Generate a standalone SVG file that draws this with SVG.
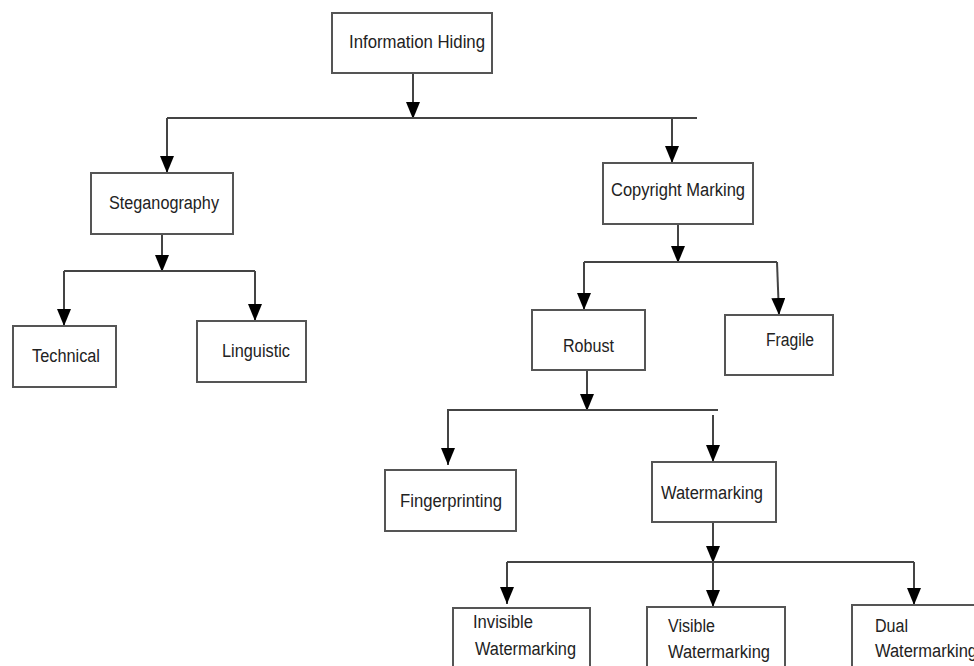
<svg xmlns="http://www.w3.org/2000/svg" width="974" height="666" viewBox="0 0 974 666">
<defs>
<marker id="ah" viewBox="0 0 17 14" refX="17" refY="7" markerWidth="17" markerHeight="14" orient="auto" markerUnits="userSpaceOnUse">
<path d="M0,0 L17,7 L0,14 Z" fill="#000"/>
</marker>
<style>
.box{fill:#fff;stroke:#555;stroke-width:2}
.lbl{font-family:"Liberation Sans","DejaVu Sans",sans-serif;font-size:18px;fill:#222}
.ln{stroke:#444;stroke-width:2;fill:none}
.ar{stroke:#444;stroke-width:2;fill:none;marker-end:url(#ah)}
</style>
</defs>
<rect width="974" height="666" fill="#fff"/>
<g id="connectors">
<line class="ar" x1="413" y1="73" x2="413" y2="119"/>
<line class="ln" x1="167" y1="118" x2="697" y2="118"/>
<line class="ar" x1="167" y1="118" x2="167" y2="173"/>
<line class="ar" x1="672" y1="118" x2="672" y2="163"/>
<line class="ar" x1="162" y1="234" x2="162" y2="272"/>
<line class="ln" x1="64" y1="271" x2="255" y2="271"/>
<line class="ar" x1="64" y1="271" x2="64" y2="326"/>
<line class="ar" x1="255" y1="271" x2="255" y2="321"/>
<line class="ar" x1="678" y1="224" x2="678" y2="263"/>
<line class="ln" x1="584" y1="262" x2="777" y2="262"/>
<line class="ar" x1="584" y1="262" x2="584" y2="310"/>
<line class="ar" x1="777" y1="262" x2="779" y2="315"/>
<line class="ar" x1="587" y1="370" x2="587" y2="411"/>
<line class="ln" x1="447" y1="410" x2="718" y2="410"/>
<line class="ar" x1="448" y1="410" x2="448" y2="465"/>
<line class="ar" x1="713" y1="415" x2="713" y2="462"/>
<line class="ar" x1="713" y1="522" x2="713" y2="563"/>
<line class="ln" x1="507" y1="562" x2="914" y2="562"/>
<line class="ar" x1="507" y1="562" x2="507" y2="604"/>
<line class="ar" x1="713" y1="562" x2="713" y2="607"/>
<line class="ar" x1="914" y1="562" x2="914" y2="605"/>
</g>
<g id="information-hiding">
<rect class="box" x="332" y="13" width="160" height="60"/>
<text class="lbl" x="349" y="48" textLength="136" lengthAdjust="spacingAndGlyphs">Information Hiding</text>
</g>
<g id="steganography">
<rect class="box" x="91" y="173" width="142" height="61"/>
<text class="lbl" x="109" y="209" textLength="110" lengthAdjust="spacingAndGlyphs">Steganography</text>
</g>
<g id="technical">
<rect class="box" x="13" y="326" width="103" height="61"/>
<text class="lbl" x="32" y="362" textLength="68" lengthAdjust="spacingAndGlyphs">Technical</text>
</g>
<g id="linguistic">
<rect class="box" x="197" y="321" width="109" height="61"/>
<text class="lbl" x="222" y="357" textLength="68" lengthAdjust="spacingAndGlyphs">Linguistic</text>
</g>
<g id="copyright-marking">
<rect class="box" x="603" y="163" width="150" height="61"/>
<text class="lbl" x="611" y="196" textLength="134" lengthAdjust="spacingAndGlyphs">Copyright Marking</text>
</g>
<g id="robust">
<rect class="box" x="532" y="310" width="113" height="60"/>
<text class="lbl" x="563" y="352" textLength="51" lengthAdjust="spacingAndGlyphs">Robust</text>
</g>
<g id="fragile">
<rect class="box" x="725" y="315" width="108" height="60"/>
<text class="lbl" x="766" y="346" textLength="48" lengthAdjust="spacingAndGlyphs">Fragile</text>
</g>
<g id="fingerprinting">
<rect class="box" x="385" y="470" width="131" height="61"/>
<text class="lbl" x="400" y="507" textLength="102" lengthAdjust="spacingAndGlyphs">Fingerprinting</text>
</g>
<g id="watermarking">
<rect class="box" x="652" y="462" width="124" height="60"/>
<text class="lbl" x="661" y="499" textLength="102" lengthAdjust="spacingAndGlyphs">Watermarking</text>
</g>
<g id="invisible-watermarking">
<rect class="box" x="453" y="608" width="137" height="70"/>
<text class="lbl" x="473" y="628" textLength="60" lengthAdjust="spacingAndGlyphs">Invisible</text>
<text class="lbl" x="475" y="655" textLength="101" lengthAdjust="spacingAndGlyphs">Watermarking</text>
</g>
<g id="visible-watermarking">
<rect class="box" x="647" y="607" width="138" height="70"/>
<text class="lbl" x="668" y="632" textLength="47" lengthAdjust="spacingAndGlyphs">Visible</text>
<text class="lbl" x="668" y="658" textLength="102" lengthAdjust="spacingAndGlyphs">Watermarking</text>
</g>
<g id="dual-watermarking">
<rect class="box" x="852" y="605" width="140" height="70"/>
<text class="lbl" x="875" y="632" textLength="33" lengthAdjust="spacingAndGlyphs">Dual</text>
<text class="lbl" x="875" y="657" textLength="102" lengthAdjust="spacingAndGlyphs">Watermarking</text>
</g>
</svg>
